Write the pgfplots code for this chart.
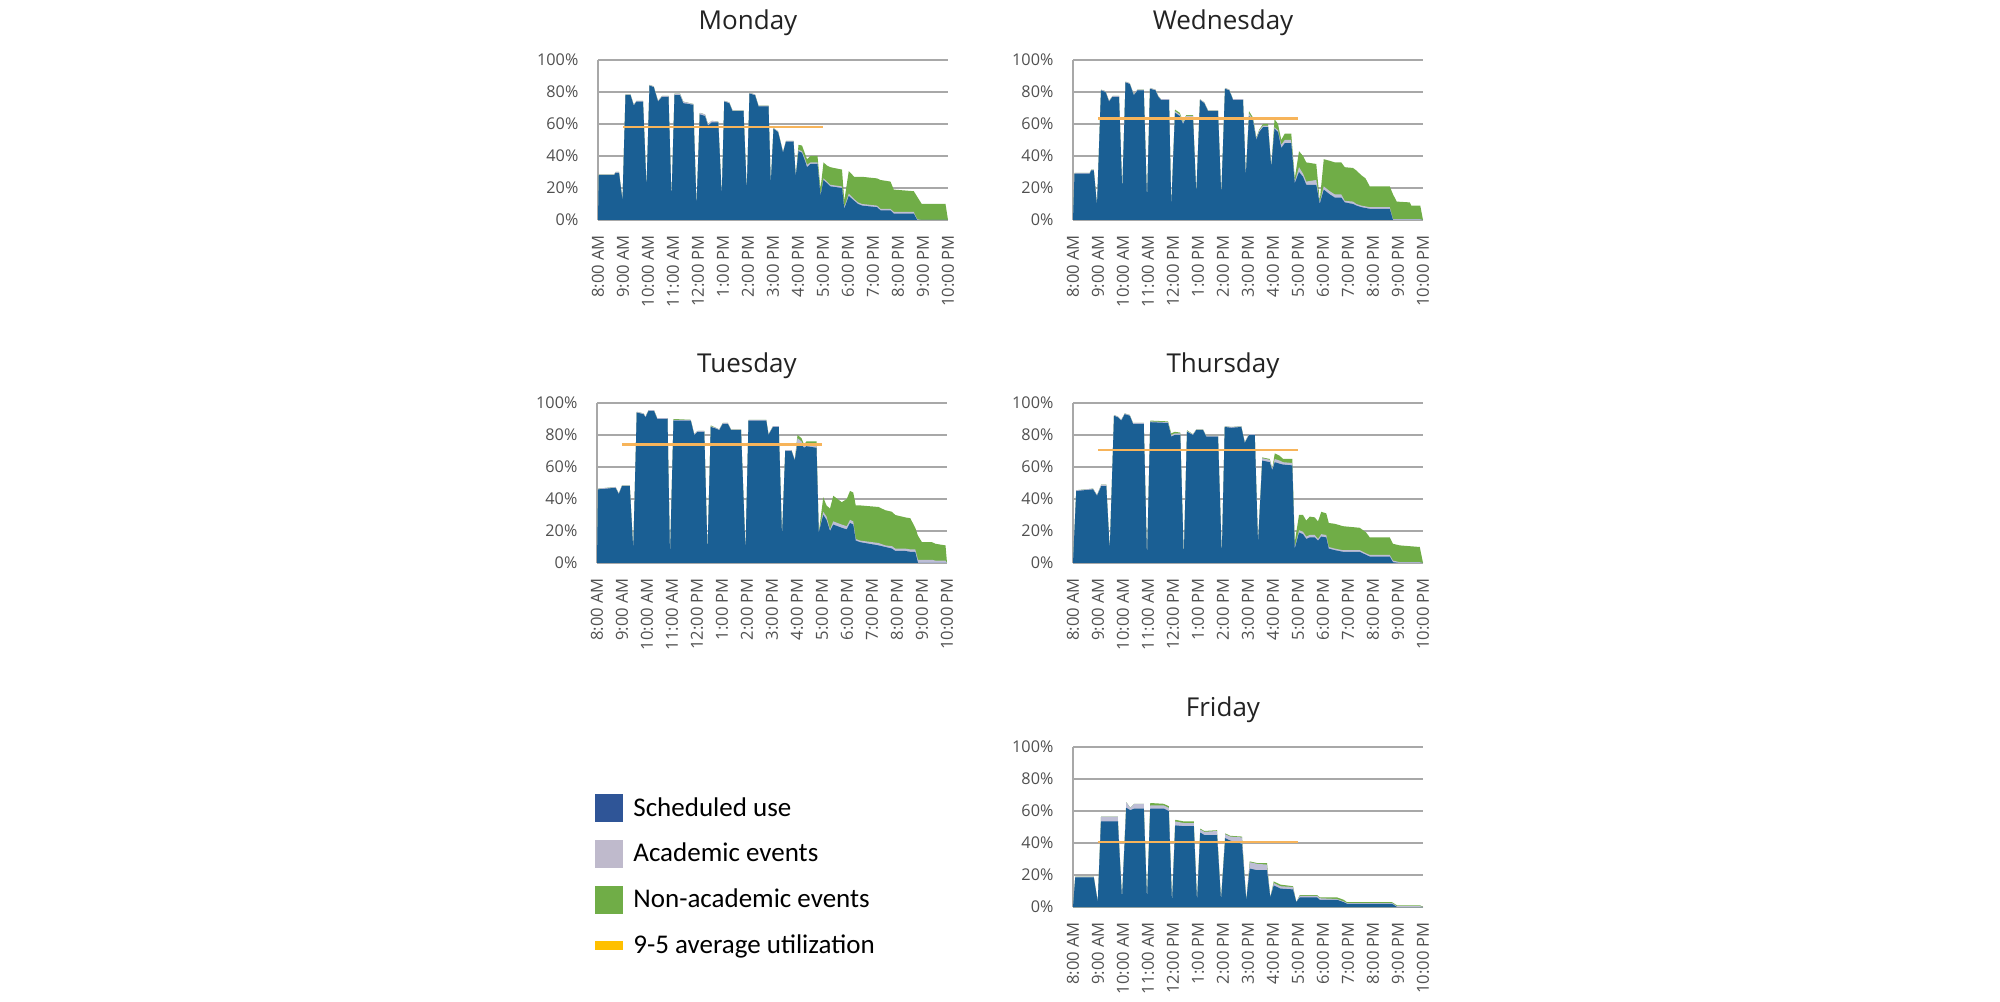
\documentclass[border=0pt]{standalone}
\usepackage{fontspec}
\setmainfont{Open Sans}
\newfontfamily\legfont{Carlito}
\usepackage{pgfplots}
\usepackage{pgfplotstable}
\pgfplotsset{compat=1.18}
\definecolor{sched}{RGB}{26,95,148}
\definecolor{acad}{RGB}{190,190,214}
\definecolor{nonac}{RGB}{112,173,71}
\definecolor{avgc}{RGB}{247,180,90}
\definecolor{gridc}{RGB}{168,168,168}
\definecolor{ticktext}{RGB}{80,80,80}
\definecolor{titletext}{RGB}{35,35,35}
\definecolor{legblue}{RGB}{47,85,151}
\definecolor{leggrey}{RGB}{191,186,204}
\definecolor{leggreen}{RGB}{112,173,71}
\definecolor{legyellow}{RGB}{255,192,0}

\pgfplotstableread{
h s a n
8.00 0 0 0
8.03 28 0.5 0
8.65 28 0.5 0
8.70 29.5 0.5 0
8.84 29.5 0.5 0
8.98 12 0 0
9.10 78 0.5 0
9.30 78 0.5 0
9.43 71.5 0.5 0
9.54 74 0.5 0
9.80 74 0.5 0
9.94 20 0 0
10.06 84 0.5 0
10.23 83 0.5 0
10.40 74 0.5 0
10.56 77 0.5 0
10.82 77 0.5 0
10.94 13 0 0
11.06 78 1 0
11.28 78 1 0
11.41 73 1 0
11.81 72 0.5 0
11.94 8 0 0
12.07 66 1 0
12.28 65 1 0
12.40 59 1 0
12.55 61 1 0
12.81 61 0.5 0
12.95 15 0 0
13.05 74 0.5 0
13.25 73 0.5 0
13.38 68 0.5 0
13.82 68 0.5 0
13.95 18 0 0
14.06 79 0.5 0
14.28 78 0.5 0
14.42 71 0.5 0
14.82 71 0.5 0
14.91 22 0 0
15.02 57 0.5 0
15.20 55 0.5 0
15.28 50 0.5 0
15.40 42 0.5 0
15.52 49 0.5 0
15.82 49 0.5 0
15.91 27 0 0
16.02 43 1 3
16.16 42 1 3.5
16.30 36 1.5 3
16.36 33 1.5 3.5
16.50 35 1 4
16.78 35 1 4
16.90 15 0.5 4
17.02 25 1 10
17.16 23 1 10
17.29 21 1 11
17.76 20 1 10.5
17.85 7 1 4
18.03 15 1.5 14
18.25 12 1 14
18.40 10 1 16
18.56 9 1 17
19.16 8 1 17
19.30 6 1 18
19.70 6 1 17
19.83 4 1 14
20.63 4 1 13
20.77 0 0.5 14
20.95 0 0 10
21.90 0 0 10
22.00 0 0 0
}\mon

\pgfplotstableread{
h s a n
8.00 0 0 0
8.06 29 0.5 0
8.67 29 0.5 0
8.73 31 0.5 0
8.83 31 0.5 0
8.96 9 0 0
9.12 81 0.5 0
9.30 80 0.5 0
9.44 74 0.5 0
9.58 77 0.5 0
9.84 77 0.5 0
9.97 18 0 0
10.10 86 0.5 0
10.27 85 0.5 0
10.43 78 0.5 0
10.58 81 0.5 0
10.83 81 0.5 0
10.96 12 0 0
11.08 82 0.5 0
11.30 81 0.5 0
11.41 77 0.5 0
11.52 75 0.5 0
11.84 75 0.5 0
11.93 8 0 0
12.08 67 1 1
12.27 65 1 1
12.40 60 1 0.5
12.53 64 1 0.5
12.80 64 1 0.5
12.93 16 0 0
13.08 75 0.5 0
13.25 73 0.5 0
13.40 68 0.5 0
13.80 68 0.5 0
13.93 15 0 0
14.08 82 0.5 0
14.25 81 0.5 0
14.40 75 0.5 0
14.80 75 0.5 0
14.91 27 0 0
15.04 65 1.5 1.5
15.20 62 1 1
15.33 50 1 0.5
15.45 55 1 0.5
15.60 58 1 1
15.80 58 1 1
15.93 33 0 0
16.06 57 1 5
16.20 55 1 4
16.33 45 2 3
16.47 48 2 4
16.73 48 2 4
16.87 23 1 2
17.04 30 3 10
17.20 27 2 11
17.33 22 2 12
17.73 22 3 10
17.87 10 1 1
18.03 19 2 17
18.27 16 2 19
18.47 14 2 20
18.73 14 2 20
18.87 11 1 21
19.20 10 1.5 21
19.33 9 1 21
19.53 8 1 19
19.70 7.5 1 17.5
19.87 7 1 13
20.67 7 1 13
20.80 0 0.5 15.5
20.95 0 0.5 11
21.47 0 0.5 10.5
21.53 0 0.5 8.5
21.89 0 0.5 8.5
22.00 0 0 0
}\wed

\pgfplotstableread{
h s a n
8.00 0 0 0
8.04 46 0.5 0
8.40 46.5 0.5 0
8.74 47 0.5 0
8.87 43 0.5 0
9.00 48 0.5 0
9.31 48 0.5 0
9.45 8 0 0
9.59 94 0.5 0
9.86 93 0.5 0
9.94 91 0.5 0
10.06 95 0.5 0
10.28 95 0.5 0
10.41 90 0.5 0
10.82 90 0.5 0
10.92 3 0 0
11.06 89 0.5 0.5
11.75 89 0.5 0
11.89 80 0.5 0
12.02 82 0.5 0
12.29 82 0.5 0
12.42 6 0 0
12.55 85 0.5 0.5
12.76 84 0.5 0
12.89 83 0.5 0
13.03 87 0.5 0
13.23 87 0.5 0
13.36 83 0.5 0
13.76 83 0.5 0
13.94 7 0 0
14.06 89 0.5 0
14.77 89 0.5 0
14.86 80 0.5 0
15.04 85 0.5 0
15.27 85 0.5 0
15.40 16 0 0
15.53 70 0.5 0
15.78 70 0.5 0
15.91 64 0.5 0
16.02 75 3 2
16.18 74 2 2
16.28 72 1 1
16.38 73 2 1
16.78 72 2 2
16.87 19 0 0
17.05 30 2 9
17.18 27 2 7
17.32 20 1 13
17.45 24 2 16
17.79 22 2 14
17.99 21 2 17
18.12 25 2 18
18.25 24 2 18
18.35 14 1 21
18.52 13 1 22
19.26 11 1.5 22.5
19.53 10 1 22
19.80 9 1.5 21.5
19.93 7.5 1.5 21
20.33 7.5 1.5 19.5
20.53 7 1.5 19.5
20.73 7 1.5 13.5
20.84 0 2 15
21.00 0 2 11
21.40 0 2 11
21.54 0 1.5 10.5
21.94 0 1.5 9.5
22.00 0 0 0
}\tue

\pgfplotstableread{
h s a n
8.00 0 0 0
8.13 45 0.5 0
8.47 45.5 0.5 0
8.80 46 0.5 0
8.96 42 0.5 0
9.13 48 1 0
9.33 48 1 0
9.47 8 0 0
9.64 92 0.5 0
9.80 91 0.5 0
9.93 89 0.5 0
10.07 93 0.5 0
10.27 92 0.5 0
10.40 87 0.5 0
10.83 87 0.5 0
10.96 2 0 0
11.09 88 0.5 0.5
11.80 87.5 0.5 0.5
11.93 79 1 1
12.07 80 1 1
12.29 80 1 0.5
12.43 3 0 0
12.56 82 0.5 0.5
12.80 80 0.5 0
12.93 83 0.5 0
13.20 83 0.5 0
13.33 79 0.5 0
13.80 79 0.5 0
13.95 4 0 0
14.07 85 0.5 0
14.33 84.5 0.5 0
14.73 85 0.5 0
14.87 75 0.5 0
15.04 80 0.5 0
15.27 80 0.5 0
15.40 12 0 0
15.57 64 1.5 0.5
15.87 63 1.5 0.5
15.97 58 1 0
16.07 63 2 3.5
16.27 62 2 3
16.40 61.5 1.5 2
16.77 61 1.5 2.5
16.87 9 1 3
17.04 19 1.5 9.5
17.20 18 1.5 10.5
17.33 15 1.5 10
17.47 16 1.5 11.5
17.67 16 1.5 11
17.80 14 1 11
17.93 16.5 1.5 14
18.13 16 1.5 13.5
18.23 9 1 15
18.47 8 1 15.5
18.80 7 1 15
19.47 7 1 14
19.73 5 1 13
19.87 4 1 11
20.67 4 1 11
20.80 0.5 1 10.5
21.07 0 0.5 10.5
21.87 0 0.5 9.5
22.00 0 0 0
}\thu

\pgfplotstableread{
h s a n
8.00 0 0 0
8.09 18.5 0.5 0
8.83 18.5 0.5 0
8.99 3 0 0
9.12 53.5 3 0
9.79 53.5 3 0
9.96 5 0 0
10.13 62 3.5 0
10.29 60.5 1.5 0
10.45 61.5 3 0
10.83 61.5 3 0
10.96 4 0 0
11.09 61.5 2 1.5
11.63 61.5 2 1
11.83 60 2 1
11.96 2 0 0
12.09 51 2.5 1
12.43 50.5 2 1
12.83 50.5 2 1
12.96 3 0 0
13.09 46.5 2 0.5
13.25 45 2 0.5
13.76 45 2.5 0.5
13.92 4 0 0
14.09 43 2.5 0.5
14.29 41.5 2.5 0.5
14.76 39.5 4 0.5
14.93 4 0 0
15.07 24 4 0.5
15.36 23 4 0.5
15.76 23 3.5 1
15.89 6 0 0
16.03 13.5 1.5 1
16.16 12.5 1.5 1
16.29 11.5 1.5 1
16.80 11 1.5 0.5
16.93 3 0 0
17.07 6 1 0.5
17.76 6 1 0.5
17.87 4.5 1 0.5
18.56 4.5 0.5 1
18.83 3 0.5 1
18.96 2 0.5 0.5
20.76 2 0.5 0.5
20.96 0 0.5 0.5
21.89 0 0.5 0.5
22.00 0 0 0
}\fri

\pgfplotsset{
  every axis title shift=0pt,
  day/.style={
    scale only axis, width=175pt, height=80pt,
    xmin=8, xmax=22, ymin=0, ymax=100,
    xtick={8,...,22},
    xticklabels={8:00 AM,9:00 AM,10:00 AM,11:00 AM,12:00 PM,1:00 PM,2:00 PM,3:00 PM,4:00 PM,5:00 PM,6:00 PM,7:00 PM,8:00 PM,9:00 PM,10:00 PM},
    ytick={0,20,40,60,80,100},
    yticklabels={0\%,20\%,40\%,60\%,80\%,100\%},
    xticklabel style={rotate=90, anchor=east, font=\fontsize{8.3}{10}\selectfont, text=ticktext},
    yticklabel style={font=\fontsize{8.1}{10}\selectfont, text=ticktext},
    xticklabel shift=4pt, yticklabel shift=6.3pt,
    axis x line*=bottom, axis y line*=left,
    axis line style={draw=gridc, line width=0.6pt},
    ymajorgrids, grid style={draw=gridc, line width=0.6pt},
    major tick length=0pt, tick style={draw=none},
    title style={font=\fontsize{13}{15}\selectfont, text=titletext, anchor=base, at={(0.5,1)}, yshift=15pt, xshift=-12.5pt},
  },
  sq/.style={legend image code/.code={\fill[##1, draw=none] (0pt,-7pt) rectangle (14pt,7pt);}},
  bar/.style={legend image code/.code={\fill[##1, draw=none] (0pt,-2.2pt) rectangle (14pt,2.2pt);}},
}

\newcommand{\dayplots}[2]{%
  \addplot[fill=nonac, draw=none] table[x=h, y expr=\thisrow{s}+\thisrow{a}+\thisrow{n}] {#1} \closedcycle;
  \addplot[fill=acad, draw=none] table[x=h, y expr=\thisrow{s}+\thisrow{a}] {#1} \closedcycle;
  \addplot[fill=sched, draw=none] table[x=h, y=s] {#1} \closedcycle;
  \addplot[draw=avgc, line width=1.2pt] coordinates {(9,#2) (17,#2)};
}

\begin{document}
\begin{tikzpicture}
\path[use as bounding box] (0,0) rectangle (1000pt,500.5pt);

\begin{axis}[day, title={Monday}, at={(299pt,390.5pt)}, anchor=south west]
\dayplots{\mon}{58}
\end{axis}

\begin{axis}[day, title={Wednesday}, at={(536.5pt,390.5pt)}, anchor=south west]
\dayplots{\wed}{63.5}
\end{axis}

\begin{axis}[day, title={Tuesday}, at={(298.5pt,219pt)}, anchor=south west]
\dayplots{\tue}{74}
\end{axis}

\begin{axis}[day, title={Thursday}, at={(536.5pt,219pt)}, anchor=south west]
\dayplots{\thu}{70.5}
\end{axis}

\begin{axis}[day, title={Friday}, at={(536.5pt,47pt)}, anchor=south west]
\dayplots{\fri}{40.5}
\end{axis}

\begin{axis}[hide axis, scale only axis, width=10pt, height=10pt,
  xmin=0, xmax=1, ymin=0, ymax=1,
  at={(297.5pt,104pt)}, anchor=north west,
  legend style={at={(0,1)}, anchor=north west, draw=none, fill=none,
    font=\legfont\fontsize{13.5}{15}\selectfont, row sep=8pt, inner sep=0pt,
    /tikz/every odd column/.append style={column sep=3pt}},
  legend cell align=left]
\addlegendimage{sq, fill=legblue}
\addlegendentry{Scheduled use}
\addlegendimage{sq, fill=leggrey}
\addlegendentry{Academic events}
\addlegendimage{sq, fill=leggreen}
\addlegendentry{Non-academic events}
\addlegendimage{bar, fill=legyellow}
\addlegendentry{9-5 average utilization}
\end{axis}
\end{tikzpicture}
\end{document}
